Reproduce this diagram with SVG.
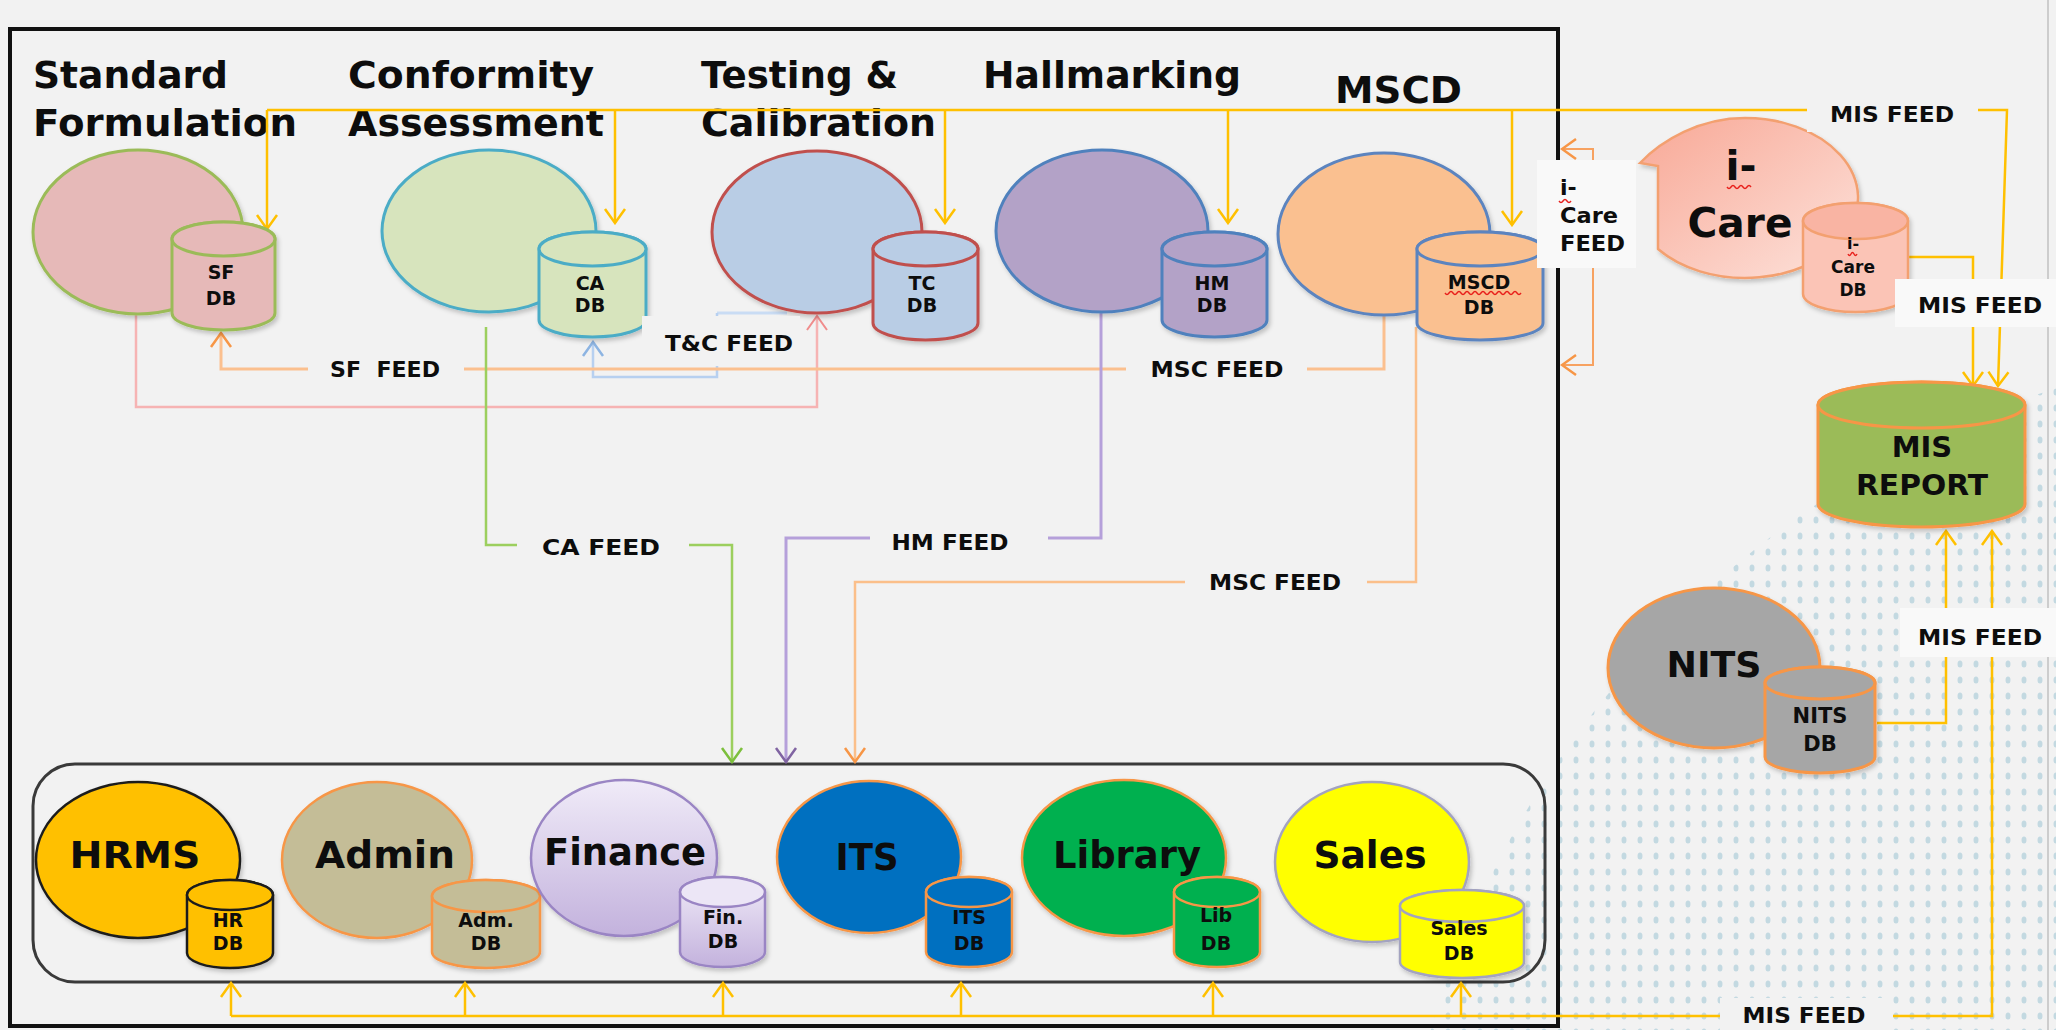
<svg xmlns="http://www.w3.org/2000/svg" width="2056" height="1030" viewBox="0 0 2056 1030">
<defs>
<style>
.t{font-family:"DejaVu Sans","Liberation Sans",sans-serif;font-weight:bold;fill:#0d0d0d}
.h{font-size:38px}
.n{font-size:37px;text-anchor:middle}
.d{font-size:19px;text-anchor:middle}
.db{font-size:19px;text-anchor:middle}
.f{font-size:22px;text-anchor:middle}
.ln{fill:none;stroke-linejoin:miter}
.y{stroke:#ffc000;stroke-width:2.5}
.o{stroke:#fbc08f;stroke-width:3}
.lb{fill:#f2f2f2}
.lw{fill:#f9f9f9}
.sq{fill:none;stroke:#e8201c;stroke-width:1.4}
</style>
<marker id="mY" viewBox="-16 -12 18 24" refX="0" refY="0" markerWidth="18" markerHeight="24" markerUnits="userSpaceOnUse" orient="auto"><path d="M-14,-10 L0,0 L-14,10" fill="none" stroke="#ffc000" stroke-width="2.5"/></marker>
<marker id="mO" viewBox="-16 -12 18 24" refX="0" refY="0" markerWidth="18" markerHeight="24" markerUnits="userSpaceOnUse" orient="auto"><path d="M-14,-10 L0,0 L-14,10" fill="none" stroke="#f79646" stroke-width="2.5"/></marker>
<marker id="mP" viewBox="-16 -12 18 24" refX="0" refY="0" markerWidth="18" markerHeight="24" markerUnits="userSpaceOnUse" orient="auto"><path d="M-14,-10 L0,0 L-14,10" fill="none" stroke="#f08c8c" stroke-width="2"/></marker>
<marker id="mB" viewBox="-16 -12 18 24" refX="0" refY="0" markerWidth="18" markerHeight="24" markerUnits="userSpaceOnUse" orient="auto"><path d="M-14,-10 L0,0 L-14,10" fill="none" stroke="#8db4e2" stroke-width="2.5"/></marker>
<marker id="mG" viewBox="-16 -12 18 24" refX="0" refY="0" markerWidth="18" markerHeight="24" markerUnits="userSpaceOnUse" orient="auto"><path d="M-14,-10 L0,0 L-14,10" fill="none" stroke="#7cbf3c" stroke-width="2.5"/></marker>
<marker id="mU" viewBox="-16 -12 18 24" refX="0" refY="0" markerWidth="18" markerHeight="24" markerUnits="userSpaceOnUse" orient="auto"><path d="M-14,-10 L0,0 L-14,10" fill="none" stroke="#8064a2" stroke-width="2.5"/></marker>
<pattern id="dots" width="16" height="16" patternUnits="userSpaceOnUse"><ellipse cx="8" cy="8" rx="2.5" ry="3.6" fill="#bed6df"/></pattern>
<clipPath id="globe"><circle cx="2350" cy="1300" r="958"/></clipPath>
<linearGradient id="gFin" x1="0" y1="0" x2="0" y2="1"><stop offset="0" stop-color="#f0ebf8"/><stop offset="1" stop-color="#c3b2dd"/></linearGradient>
<linearGradient id="gCare" x1="0" y1="0" x2="1" y2="1"><stop offset="0" stop-color="#f8a896"/><stop offset="1" stop-color="#fde3dc"/></linearGradient>
<filter id="sh" x="-10%" y="-10%" width="130%" height="130%"><feDropShadow dx="2" dy="3" stdDeviation="2" flood-color="#000" flood-opacity="0.2"/></filter>
</defs>

<rect class="bg" x="0" y="0" width="2056" height="1030" fill="#f2f2f2"/>
<rect x="1380" y="330" width="676" height="700" fill="url(#dots)" clip-path="url(#globe)" opacity="0.9"/>
<line x1="2048" y1="0" x2="2048" y2="1030" stroke="#cdcdcd" stroke-width="2"/>

<rect id="frame" x="10" y="29" width="1548" height="997" fill="none" stroke="#111" stroke-width="4"/>

<g id="headings" class="t h">
<text x="33" y="88" textLength="195" lengthAdjust="spacingAndGlyphs">Standard</text>
<text x="33" y="136" textLength="264" lengthAdjust="spacingAndGlyphs">Formulation</text>
<text x="348" y="88" textLength="246" lengthAdjust="spacingAndGlyphs">Conformity</text>
<text x="348" y="136" textLength="256" lengthAdjust="spacingAndGlyphs">Assessment</text>
<text x="701" y="88" textLength="197" lengthAdjust="spacingAndGlyphs">Testing &amp;</text>
<text x="701" y="136" textLength="235" lengthAdjust="spacingAndGlyphs">Calibration</text>
<text x="983" y="88" textLength="258" lengthAdjust="spacingAndGlyphs">Hallmarking</text>
<text x="1335" y="103" textLength="127" lengthAdjust="spacingAndGlyphs">MSCD</text>
</g>

<rect id="bottom-container" x="33" y="764" width="1512" height="218" rx="42" fill="none" stroke="#3a3a3a" stroke-width="3"/>

<g id="connectors">
<path class="ln y" d="M267,110 H2007 L1998,386" marker-end="url(#mY)"/>
<path class="ln y" d="M267,110 V229" marker-end="url(#mY)"/>
<path class="ln y" d="M615,110 V223" marker-end="url(#mY)"/>
<path class="ln y" d="M945,110 V223" marker-end="url(#mY)"/>
<path class="ln y" d="M1228,110 V223" marker-end="url(#mY)"/>
<path class="ln y" d="M1512,110 V225" marker-end="url(#mY)"/>
<path class="ln y" d="M1877,257 H1973 V386" marker-end="url(#mY)"/>
<path class="ln y" d="M1877,723 H1946 V531" marker-end="url(#mY)"/>
<path class="ln y" d="M231,1016 H1992 V531" marker-end="url(#mY)"/>
<path class="ln y" d="M231,1016 V983" marker-end="url(#mY)"/>
<path class="ln y" d="M465,1016 V983" marker-end="url(#mY)"/>
<path class="ln y" d="M723,1016 V983" marker-end="url(#mY)"/>
<path class="ln y" d="M961,1016 V983" marker-end="url(#mY)"/>
<path class="ln y" d="M1213,1016 V983" marker-end="url(#mY)"/>
<path class="ln y" d="M1461,1016 V983" marker-end="url(#mY)"/>
<path class="ln" d="M136,313 V407 H817 V316" stroke="#f6b3b3" stroke-width="2.5" marker-end="url(#mP)"/>
<path class="ln" d="M717,313 H787" stroke="#c9dcf4" stroke-width="3"/>
<path class="ln" d="M717,313 V377 H593 V342" stroke="#b7d0f0" stroke-width="2.5" marker-end="url(#mB)"/>
<path class="ln o" d="M1384,315 V369 H221 V333" marker-end="url(#mO)"/>
<path class="ln" d="M486,327 V545 H732 V762" stroke="#9ccf5e" stroke-width="2.5" marker-end="url(#mG)"/>
<path class="ln" d="M1101,312 V538 H786 V762" stroke="#b5a0da" stroke-width="3" marker-end="url(#mU)"/>
<path class="ln" d="M1416,327 V582 H855 V762" stroke="#fbbf8a" stroke-width="2.5" marker-end="url(#mO)"/>
<path class="ln" d="M1593,200 V149 H1562" stroke="#f7a261" stroke-width="2" marker-end="url(#mO)"/>
<path class="ln" d="M1593,230 V365 H1562" stroke="#f7a261" stroke-width="2" marker-end="url(#mO)"/>
</g>

<g id="node-sf">
<g filter="url(#sh)" fill="#e6b9b8" stroke="#9bbb59" stroke-width="3">
<ellipse cx="138" cy="232" rx="105" ry="82"/>
<path d="M172,239 V313 A51.5,17 0 0 0 275,313 V239 A51.5,17 0 0 0 172,239 Z"/>
<ellipse cx="223.5" cy="239" rx="51.5" ry="17"/>
</g>
<text class="t d" x="221" y="279">SF</text><text class="t d" x="221" y="305">DB</text>
</g>

<g id="node-ca">
<g filter="url(#sh)" fill="#d7e4bd" stroke="#4bacc6" stroke-width="3">
<ellipse cx="489" cy="231" rx="107" ry="81"/>
<path d="M539,249 V320 A53.5,17 0 0 0 646,320 V249 A53.5,17 0 0 0 539,249 Z"/>
<ellipse cx="592.5" cy="249" rx="53.5" ry="17"/>
</g>
<text class="t d" x="590" y="290">CA</text><text class="t d" x="590" y="312">DB</text>
</g>

<g id="node-tc">
<g filter="url(#sh)" fill="#b9cde5" stroke="#c0504d" stroke-width="3">
<ellipse cx="817" cy="232" rx="105" ry="81"/>
<path d="M873,249 V323 A52.5,17 0 0 0 978,323 V249 A52.5,17 0 0 0 873,249 Z"/>
<ellipse cx="925.5" cy="249" rx="52.5" ry="17"/>
</g>
<text class="t d" x="922" y="290">TC</text><text class="t d" x="922" y="312">DB</text>
</g>

<g id="node-hm">
<g filter="url(#sh)" fill="#b3a2c7" stroke="#4f81bd" stroke-width="3">
<ellipse cx="1102" cy="231" rx="106" ry="81"/>
<path d="M1162,249 V320 A52.5,17 0 0 0 1267,320 V249 A52.5,17 0 0 0 1162,249 Z"/>
<ellipse cx="1214.5" cy="249" rx="52.5" ry="17"/>
</g>
<text class="t d" x="1212" y="290">HM</text><text class="t d" x="1212" y="312">DB</text>
</g>

<g id="node-mscd">
<g filter="url(#sh)" fill="#fac090" stroke="#5b84bf" stroke-width="3">
<ellipse cx="1384" cy="234" rx="106" ry="81"/>
<path d="M1417,249 V323 A63,17 0 0 0 1543,323 V249 A63,17 0 0 0 1417,249 Z"/>
<ellipse cx="1480" cy="249" rx="63" ry="17"/>
</g>
<text class="t d" x="1479" y="289">MSCD</text><text class="t d" x="1479" y="314">DB</text>
<path class="sq" d="M1445,293 q2,3 4,0 t4,0 t4,0 t4,0 t4,0 t4,0 t4,0 t4,0 t4,0 t4,0 t4,0 t4,0 t4,0 t4,0 t4,0 t4,0 t4,0 t4,0 t4,0"/>
</g>

<g id="node-icare">
<g filter="url(#sh)" stroke="#f3a070" stroke-width="2.5">
<path d="M1640,163 C1662,140 1700,118 1745,118 A113,80 0 1 1 1658,249 L1658,166 Z" fill="url(#gCare)"/>
<path d="M1803,221 V294 A52.5,18 0 0 0 1908,294 V221 A52.5,18 0 0 0 1803,221 Z" fill="#fbc4b6"/>
<ellipse cx="1855.5" cy="221" rx="52.5" ry="18" fill="#f9b4a3"/>
</g>
<text class="t" x="1741" y="180" font-size="41" text-anchor="middle">i-</text>
<text class="t" x="1740" y="237" font-size="41" text-anchor="middle" textLength="105" lengthAdjust="spacingAndGlyphs">Care</text>
<path class="sq" d="M1727,187 q2,3 4,0 t4,0 t4,0 t4,0 t4,0 t4,0"/>
<text class="t" x="1853" y="249" font-size="16" text-anchor="middle">i-</text>
<text class="t" x="1853" y="273" font-size="17" text-anchor="middle">Care</text>
<text class="t" x="1853" y="296" font-size="17" text-anchor="middle">DB</text>
<path class="sq" d="M1848,254 q1.5,3 3,0 t3,0 t3,0"/>
</g>

<g id="node-mis">
<g filter="url(#sh)" fill="#9bbb59" stroke="#f79646" stroke-width="3">
<path d="M1818,405 V504 A103.5,23 0 0 0 2025,504 V405 A103.5,23 0 0 0 1818,405 Z"/>
<ellipse cx="1921.5" cy="405" rx="103.5" ry="23"/>
</g>
<text class="t" x="1922" y="457" font-size="29" text-anchor="middle">MIS</text>
<text class="t" x="1922" y="495" font-size="29" text-anchor="middle" textLength="132" lengthAdjust="spacingAndGlyphs">REPORT</text>
</g>

<g id="node-nits">
<g filter="url(#sh)" fill="#a6a6a6" stroke="#f79646" stroke-width="3">
<ellipse cx="1714" cy="668" rx="106" ry="80"/>
<path d="M1765,683 V757 A55,16 0 0 0 1875,757 V683 A55,16 0 0 0 1765,683 Z"/>
<ellipse cx="1820" cy="683" rx="55" ry="16"/>
</g>
<text class="t" x="1714" y="677" font-size="36" text-anchor="middle" textLength="95" lengthAdjust="spacingAndGlyphs">NITS</text>
<text class="t" x="1820" y="723" font-size="21" text-anchor="middle">NITS</text>
<text class="t" x="1820" y="751" font-size="21" text-anchor="middle">DB</text>
</g>

<g id="node-hrms">
<g filter="url(#sh)" fill="#ffc000" stroke="#1f1f1f" stroke-width="2.5">
<ellipse cx="138" cy="860" rx="102" ry="78"/>
<path d="M187,895 V953 A43,15 0 0 0 273,953 V895 A43,15 0 0 0 187,895 Z"/>
<ellipse cx="230" cy="895" rx="43" ry="15"/>
</g>
<text class="t n" x="135" y="868" textLength="131" lengthAdjust="spacingAndGlyphs">HRMS</text>
<text class="t db" x="228" y="927">HR</text><text class="t db" x="228" y="950">DB</text>
</g>

<g id="node-admin">
<g filter="url(#sh)" fill="#c4bd97" stroke="#f79646" stroke-width="2.5">
<ellipse cx="377" cy="860" rx="95" ry="78"/>
<path d="M432,896 V952 A54,16 0 0 0 540,952 V896 A54,16 0 0 0 432,896 Z"/>
<ellipse cx="486" cy="896" rx="54" ry="16"/>
</g>
<text class="t n" x="385" y="868" textLength="140" lengthAdjust="spacingAndGlyphs">Admin</text>
<text class="t db" x="486" y="927">Adm.</text><text class="t db" x="486" y="950">DB</text>
</g>

<g id="node-finance">
<g filter="url(#sh)" stroke="#9a85c4" stroke-width="2.5">
<ellipse cx="624" cy="858" rx="93" ry="78" fill="url(#gFin)"/>
<path d="M680,892 V952 A42.5,15 0 0 0 765,952 V892 A42.5,15 0 0 0 680,892 Z" fill="url(#gFin)"/>
<ellipse cx="722.5" cy="892" rx="42.5" ry="15" fill="#ece6f6"/>
</g>
<text class="t n" x="625" y="865" textLength="162" lengthAdjust="spacingAndGlyphs">Finance</text>
<text class="t db" x="723" y="924">Fin.</text><text class="t db" x="723" y="948">DB</text>
</g>

<g id="node-its">
<g filter="url(#sh)" fill="#0070c0" stroke="#f79646" stroke-width="2.5">
<ellipse cx="869" cy="857" rx="92" ry="76"/>
<path d="M926,892 V952 A43,15 0 0 0 1012,952 V892 A43,15 0 0 0 926,892 Z"/>
<ellipse cx="969" cy="892" rx="43" ry="15"/>
</g>
<text class="t n" x="867" y="870" textLength="63" lengthAdjust="spacingAndGlyphs">ITS</text>
<text class="t db" x="969" y="924">ITS</text><text class="t db" x="969" y="950">DB</text>
</g>

<g id="node-library">
<g filter="url(#sh)" fill="#00b050" stroke="#f79646" stroke-width="2.5">
<ellipse cx="1124" cy="858" rx="102" ry="78"/>
<path d="M1174,892 V952 A43,15 0 0 0 1260,952 V892 A43,15 0 0 0 1174,892 Z"/>
<ellipse cx="1217" cy="892" rx="43" ry="15"/>
</g>
<text class="t n" x="1127" y="868" textLength="148" lengthAdjust="spacingAndGlyphs">Library</text>
<text class="t db" x="1216" y="922">Lib</text><text class="t db" x="1216" y="950">DB</text>
</g>

<g id="node-sales">
<g filter="url(#sh)" fill="#ffff00" stroke="#a3a3c0" stroke-width="2.5">
<ellipse cx="1372" cy="862" rx="97" ry="80"/>
<path d="M1400,906 V962 A62,16 0 0 0 1524,962 V906 A62,16 0 0 0 1400,906 Z"/>
<ellipse cx="1462" cy="906" rx="62" ry="16"/>
</g>
<text class="t n" x="1370" y="868" textLength="113" lengthAdjust="spacingAndGlyphs">Sales</text>
<text class="t db" x="1459" y="935">Sales</text><text class="t db" x="1459" y="960">DB</text>
</g>

<g id="labels">
<rect class="lb" x="308" y="352" width="156" height="34"/>
<text class="t f" x="385" y="377" textLength="110" lengthAdjust="spacingAndGlyphs" xml:space="preserve">SF  FEED</text>
<rect class="lb" x="642" y="316" width="158" height="50"/>
<text class="t f" x="729" y="351" textLength="128" lengthAdjust="spacingAndGlyphs">T&amp;C FEED</text>
<rect class="lb" x="1126" y="352" width="181" height="34"/>
<text class="t f" x="1217" y="377" textLength="133" lengthAdjust="spacingAndGlyphs">MSC FEED</text>
<rect class="lb" x="517" y="528" width="172" height="38"/>
<text class="t f" x="601" y="555" textLength="118" lengthAdjust="spacingAndGlyphs">CA FEED</text>
<rect class="lb" x="870" y="524" width="178" height="36"/>
<text class="t f" x="950" y="550" textLength="117" lengthAdjust="spacingAndGlyphs">HM FEED</text>
<rect class="lb" x="1185" y="564" width="182" height="36"/>
<text class="t f" x="1275" y="590" textLength="132" lengthAdjust="spacingAndGlyphs">MSC FEED</text>
<rect class="lb" x="1807" y="96" width="171" height="36"/>
<text class="t f" x="1892" y="122" textLength="124" lengthAdjust="spacingAndGlyphs">MIS FEED</text>
<rect class="lw" x="1895" y="279" width="161" height="48"/>
<text class="t f" x="1980" y="313" textLength="124" lengthAdjust="spacingAndGlyphs">MIS FEED</text>
<rect class="lw" x="1900" y="608" width="156" height="49"/>
<text class="t f" x="1980" y="645" textLength="124" lengthAdjust="spacingAndGlyphs">MIS FEED</text>
<rect class="lb" x="1720" y="998" width="173" height="32"/>
<text class="t f" x="1804" y="1023" textLength="123" lengthAdjust="spacingAndGlyphs">MIS FEED</text>
<rect class="lw" x="1537" y="160" width="99" height="108"/>
<text class="t" x="1560" y="195" font-size="22">i-</text>
<text class="t" x="1560" y="223" font-size="22" textLength="58" lengthAdjust="spacingAndGlyphs">Care</text>
<text class="t" x="1560" y="251" font-size="22" textLength="65" lengthAdjust="spacingAndGlyphs">FEED</text>
<path class="sq" d="M1559,201 q2,3 4,0 t4,0 t4,0"/>
</g>
</svg>
